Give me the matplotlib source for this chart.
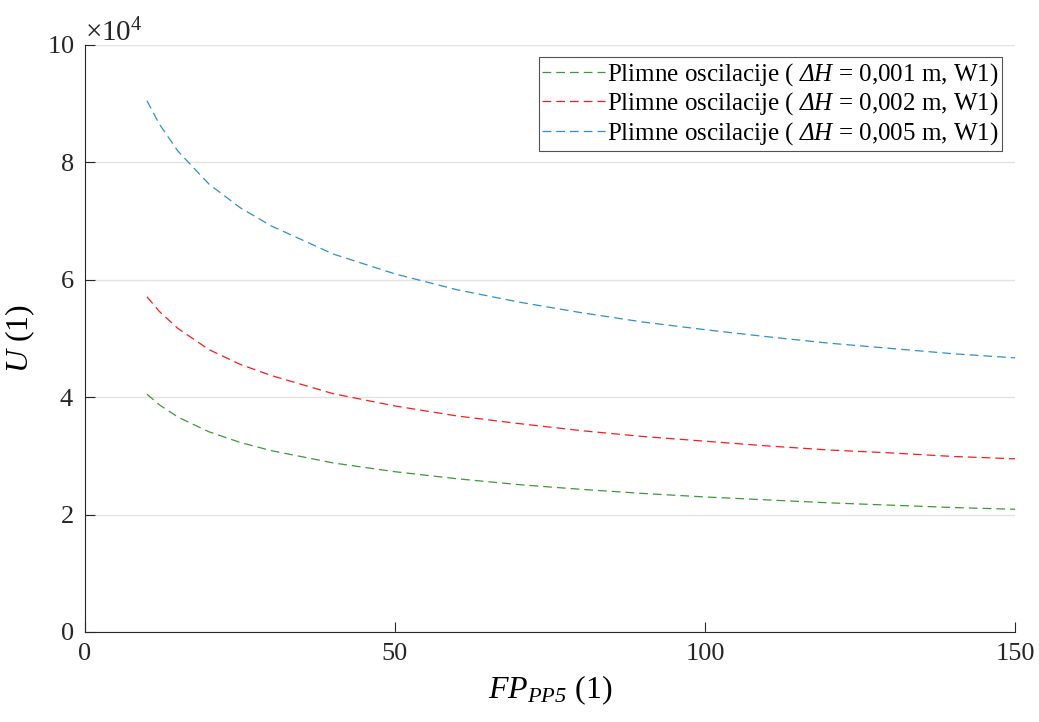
import matplotlib
matplotlib.use('Agg')
import matplotlib.pyplot as plt
from matplotlib.ticker import ScalarFormatter

plt.rcParams['font.family'] = ['Liberation Serif', 'DejaVu Serif']
plt.rcParams['mathtext.fontset'] = 'custom'
plt.rcParams['mathtext.rm'] = 'Liberation Serif'
plt.rcParams['mathtext.it'] = 'Liberation Serif:italic'
plt.rcParams['mathtext.sf'] = 'Liberation Serif:italic'
plt.rcParams['mathtext.bf'] = 'Liberation Serif:bold'

# values
fp = [10, 12, 15, 20, 25, 30, 40, 50, 60, 70, 80, 90, 100, 110, 120, 130, 140, 150]
u_001 = [40500, 38700, 36600, 34100, 32300, 30900, 28800, 27300, 26100, 25100, 24300,
         23600, 23000, 22500, 22000, 21600, 21200, 20900]
u_002 = [57100, 54600, 51700, 48100, 45600, 43700, 40600, 38500, 36800, 35500, 34300,
         33300, 32500, 31700, 31000, 30500, 29900, 29500]
u_005 = [90500, 86500, 81900, 76300, 72300, 69200, 64400, 61000, 58300, 56200, 54400,
         52800, 51500, 50300, 49200, 48300, 47400, 46700]

labels = ['Plimne oscilacije ( $\\mathsf{ΔH}$ = 0,001 m, W1)',
          'Plimne oscilacije ( $\\mathsf{ΔH}$ = 0,002 m, W1)',
          'Plimne oscilacije ( $\\mathsf{ΔH}$ = 0,005 m, W1)']
colors = ['#3a9a3a', '#ff1a1a', '#2f8fd0']

fig = plt.figure(figsize=(10.39, 7.22), dpi=100)
ax = fig.add_axes([0.0818, 0.1247, 0.8951, 0.8130])

for ys, lab, c in zip([u_001, u_002, u_005], labels, colors):
    ax.plot(fp, ys, color=c, lw=0.9, linestyle=(0, (7, 4)), label=lab)

ax.set_xlim(0, 150)
ax.set_ylim(0, 100000)
ax.set_xticks([0, 50, 100, 150])
ax.set_yticks([0, 20000, 40000, 60000, 80000, 100000])

fmt = ScalarFormatter(useMathText=True)
fmt.set_powerlimits((4, 4))
ax.yaxis.set_major_formatter(fmt)
ax.yaxis.get_offset_text().set_fontsize(21)

ax.grid(axis='y', color='#e3e3e3', lw=1)
ax.set_axisbelow(True)
ax.spines['top'].set_visible(False)
ax.spines['right'].set_visible(False)
for s in ['left', 'bottom']:
    ax.spines[s].set_color('#262626')
    ax.spines[s].set_linewidth(0.8)
ax.tick_params(direction='in', length=7, width=0.8, labelsize=19, colors='#262626',
               pad=8)

ax.set_xlabel('$FP_{\\mathsf{PP5}}$ (1)', fontsize=23, labelpad=6)
ax.set_ylabel('$U$ (1)', fontsize=23)
ax.yaxis.set_label_coords(-0.052, 0.5)

leg = ax.legend(loc='upper right', fontsize=18, frameon=True, fancybox=False,
                edgecolor='#262626', handlelength=2.5, handletextpad=0.1,
                borderpad=0.15, labelspacing=0.1, borderaxespad=0.5)
leg.get_frame().set_linewidth(0.8)

fig.savefig('out.png', dpi=100)
